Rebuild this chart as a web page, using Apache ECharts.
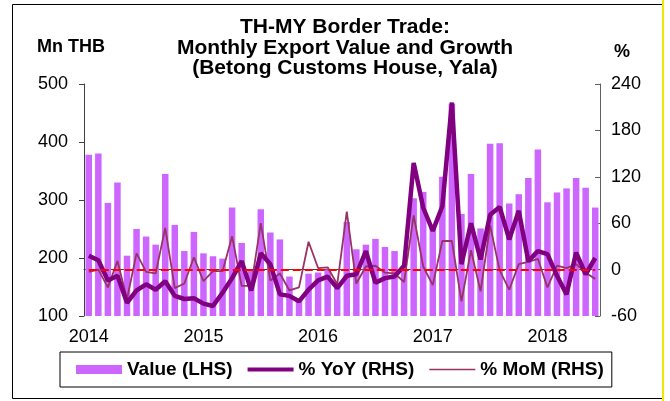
<!DOCTYPE html>
<html>
<head>
<meta charset="utf-8">
<script src="https://cdn.jsdelivr.net/npm/echarts@6/dist/echarts.min.js"></script>
<style>
  html, body { margin: 0; padding: 0; background: #fff; }
  #chart { width: 670px; height: 401px; }
</style>
</head>
<body>
<div id="chart"></div>
<script>
// monthly, Jan 2014 - Jun 2018
const years = ['2014', '2015', '2016', '2017', '2018'];
const months = [];
years.forEach(y => {
  for (let m = 1; m <= 12; m++) {
    if (y === '2018' && m > 6) break;
    months.push(y + '-' + (m < 10 ? '0' + m : m));
  }
});

// export value, Mn THB (LHS)
const valueData = [
  378, 380, 295, 330, 204, 250, 237, 223, 345, 257, 212, 245,
  208, 203, 199, 287, 226, 180, 284, 244, 232, 168, 130, 173,
  175, 180, 148, 262, 215, 223, 233, 219, 212, 178, 303, 314,
  252, 340, 466, 276, 345, 251, 397, 398, 294, 310, 338, 387,
  296, 313, 320, 338, 321, 287
];
// % YoY (RHS)
const yoyData = [
  18, 12, -14, -8, -43, -27, -19, -26, -15, -34, -38, -37,
  -44, -47, -30, -11, 11, -27, 21, 7, -32, -34, -41, -26,
  -14, -9, -24, -8, -6, 24, -17, -11, -9, 5, 138, 80,
  50, 82, 216, 7, 60, 13, 71, 81, 39, 76, 11, 24,
  20, -8, -32, 22, -6, 15
];
// % MoM (RHS)
const momData = [
  -3, 0, -23, 11, -38, 21, -3, -5, 54, -24, -18, 16,
  -15, -2, -2, 43, -21, -21, 60, -14, -5, -27, -23, 36,
  2, 3, -19, 75, -18, 4, 5, -4, -5, -16, 70, 4,
  -20, 37, 37, -41, 25, -28, 57, -1, -26, 7, 10, 14,
  -23, 5, 2, 7, -4, -12
];

const FONT = '"Liberation Sans", Arial, sans-serif';

const chart = echarts.init(document.getElementById('chart'));
const option = {
  backgroundColor: '#fff',
  animation: false,
  textStyle: { fontFamily: FONT, color: '#000' },
  title: {
    text: 'TH-MY Border Trade:\nMonthly Export Value and Growth\n(Betong Customs House, Yala)',
    left: 340,
    top: 12,
    textAlign: 'center',
    textStyle: { fontFamily: FONT, fontSize: 21, fontWeight: 'bold', lineHeight: 20.5, color: '#000' }
  },
  graphic: [
    { type: 'rect', left: 10, top: 2, shape: { width: 651, height: 394 },
      style: { fill: 'none', stroke: '#000', lineWidth: 1 }, silent: true },
    { type: 'line', shape: { x1: 663, y1: 0, x2: 663, y2: 401 },
      style: { stroke: '#f2e600', lineWidth: 2 }, silent: true }
  ],
  legend: {
    left: 60,
    top: 352,
    padding: [8, 8, 8, 16],
    borderColor: '#000',
    borderWidth: 1,
    itemWidth: 46,
    itemHeight: 9,
    itemGap: 15,
    itemStyle: { borderWidth: 0 },
    textStyle: { fontFamily: FONT, fontSize: 19, fontWeight: 'bold', color: '#000' },
    data: [
      { name: 'Value (LHS)', icon: 'path://M0,0 H46 V9 H0 Z' },
      { name: '% YoY (RHS)', icon: 'path://M0,0 M0,2.5 H46 V6.5 H0 Z M46,9' },
      { name: '% MoM (RHS)', icon: 'path://M0,0 M0,3.7 H46 V5.3 H0 Z M46,9' }
    ]
  },
  grid: { left: 84, right: 70, top: 84, bottom: 85 },
  xAxis: {
    type: 'category',
    data: months,
    boundaryGap: true,
    axisLine: { lineStyle: { color: '#404040', width: 1 } },
    axisTick: {
      length: 5,
      interval: (i) => i % 12 === 0,
      lineStyle: { color: '#000' }
    },
    axisLabel: {
      interval: (i) => i % 12 === 0,
      formatter: (v) => v.slice(0, 4),
      fontSize: 18,
      color: '#000',
      margin: 12
    },
    splitLine: { show: false }
  },
  yAxis: [
    {
      type: 'value',
      min: 100, max: 500, interval: 100,
      name: 'Mn THB',
      nameLocation: 'end',
      nameGap: 28,
      nameTextStyle: { fontSize: 18, fontWeight: 'bold', color: '#000', align: 'center', padding: [0, 26, 0, 0] },
      axisLine: { show: true, lineStyle: { color: '#404040' } },
      axisTick: { show: true, length: 5, lineStyle: { color: '#404040' } },
      axisLabel: { fontSize: 18, color: '#000', margin: 16 },
      splitLine: { show: false }
    },
    {
      type: 'value',
      min: -60, max: 240, interval: 60,
      name: '%',
      nameLocation: 'end',
      nameGap: 23,
      nameTextStyle: { fontSize: 18, fontWeight: 'bold', color: '#000', align: 'left', padding: [0, 0, 0, 14] },
      axisLine: { show: true, lineStyle: { color: '#606060' } },
      axisTick: { show: true, inside: true, length: 5, lineStyle: { color: '#606060' } },
      axisLabel: { fontSize: 18, color: '#000', margin: 11 },
      splitLine: { show: false }
    }
  ],
  series: [
    {
      name: 'Value (LHS)',
      type: 'bar',
      data: valueData,
      yAxisIndex: 0,
      barCategoryGap: '32%',
      itemStyle: { color: '#cc66ff' }
    },
    {
      name: '% MoM (RHS)',
      type: 'line',
      data: momData,
      yAxisIndex: 1,
      symbol: 'none',
      z: 3,
      lineStyle: { color: '#993366', width: 1.8 },
      itemStyle: { color: '#993366' },
      markLine: {
        silent: true,
        symbol: 'none',
        label: { show: false },
        lineStyle: { color: '#ff0000', type: [8, 4], width: 2.2 },
        data: [[
          { coord: [months[0], 0] },
          { coord: [months[months.length - 1], 0] }
        ]]
      }
    },
    {
      name: '% YoY (RHS)',
      type: 'line',
      data: yoyData,
      yAxisIndex: 1,
      symbol: 'none',
      z: 4,
      lineStyle: { color: '#800080', width: 4.5 },
      itemStyle: { color: '#800080' }
    }
  ]
};
chart.setOption(option);
</script>
</body>
</html>
